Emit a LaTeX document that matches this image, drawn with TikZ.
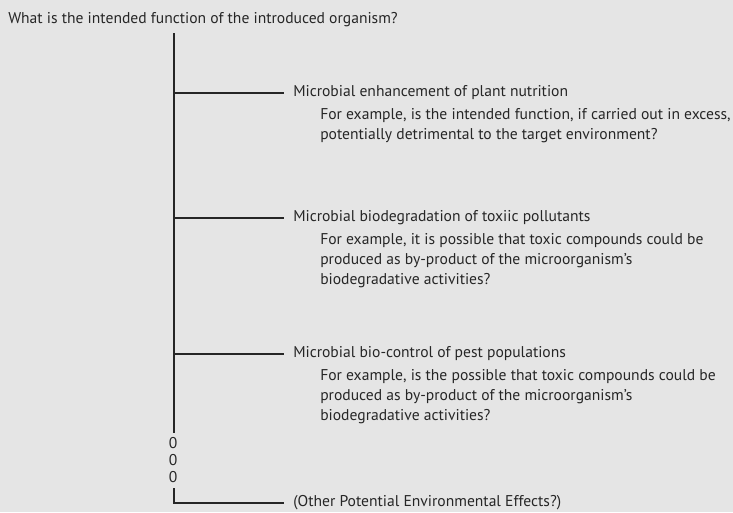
\documentclass[tikz,border=0pt]{standalone}
\usepackage{fontspec}
\setmainfont{PT Sans}
\usepackage{tikz}
\usetikzlibrary{positioning}

\definecolor{bgcol}{HTML}{E5E5E5}
\definecolor{inkcol}{HTML}{262626}

\begin{document}
\begin{tikzpicture}[
    x=0.75pt, y=-0.75pt,
    label/.style={anchor=west, inner xsep=6.75pt, inner ysep=0pt,
                  font=\fontsize{11.7}{15}\selectfont, text=inkcol},
    example/.style={anchor=north west, inner sep=0pt, align=left,
                    font=\fontsize{11.7}{15}\selectfont, text=inkcol},
    branch/.style={draw=inkcol, line width=1.4pt},
]
\useasboundingbox[fill=bgcol] (0,0) rectangle (733,512);

\node[label, inner xsep=0pt] (q) at (8,20)
  {What is the intended function of the introduced organism?};

% spine
\coordinate (top) at (174,33);
\coordinate (gap1) at (174,433);
\coordinate (gap2) at (174,488);

\node[label] (b1) at (284,93) {Microbial enhancement of plant nutrition};
\node[example] (e1) at (320,108)
  {For example, is the intended function, if carried out in excess,\\
   potentially detrimental to the target environment?};

\node[label] (b2) at (284,218) {Microbial biodegradation of toxiic pollutants};
\node[example] (e2) at (320,233)
  {For example, it is possible that toxic compounds could be\\
   produced as by-product of the microorganism's\\
   biodegradative activities?};

\node[label] (b3) at (284,354) {Microbial bio-control of pest populations};
\node[example] (e3) at (320,369)
  {For example, is the possible that toxic compounds could be\\
   produced as by-product of the microorganism's\\
   biodegradative activities?};

\node[label, anchor=center, inner xsep=0pt, align=center,
      font=\fontsize{11.7}{12.75}\selectfont] (dots) at (173,460) {0\\0\\0};

\node[label] (other) at (284,503) {(Other Potential Environmental Effects?)};

\draw[branch] (top) -- (gap1);
\draw[branch] (top |- b1.west) -- (b1.west);
\draw[branch] (top |- b2.west) -- (b2.west);
\draw[branch] (top |- b3.west) -- (b3.west);
\draw[branch] (gap2) |- (other.west);
\end{tikzpicture}
\end{document}
